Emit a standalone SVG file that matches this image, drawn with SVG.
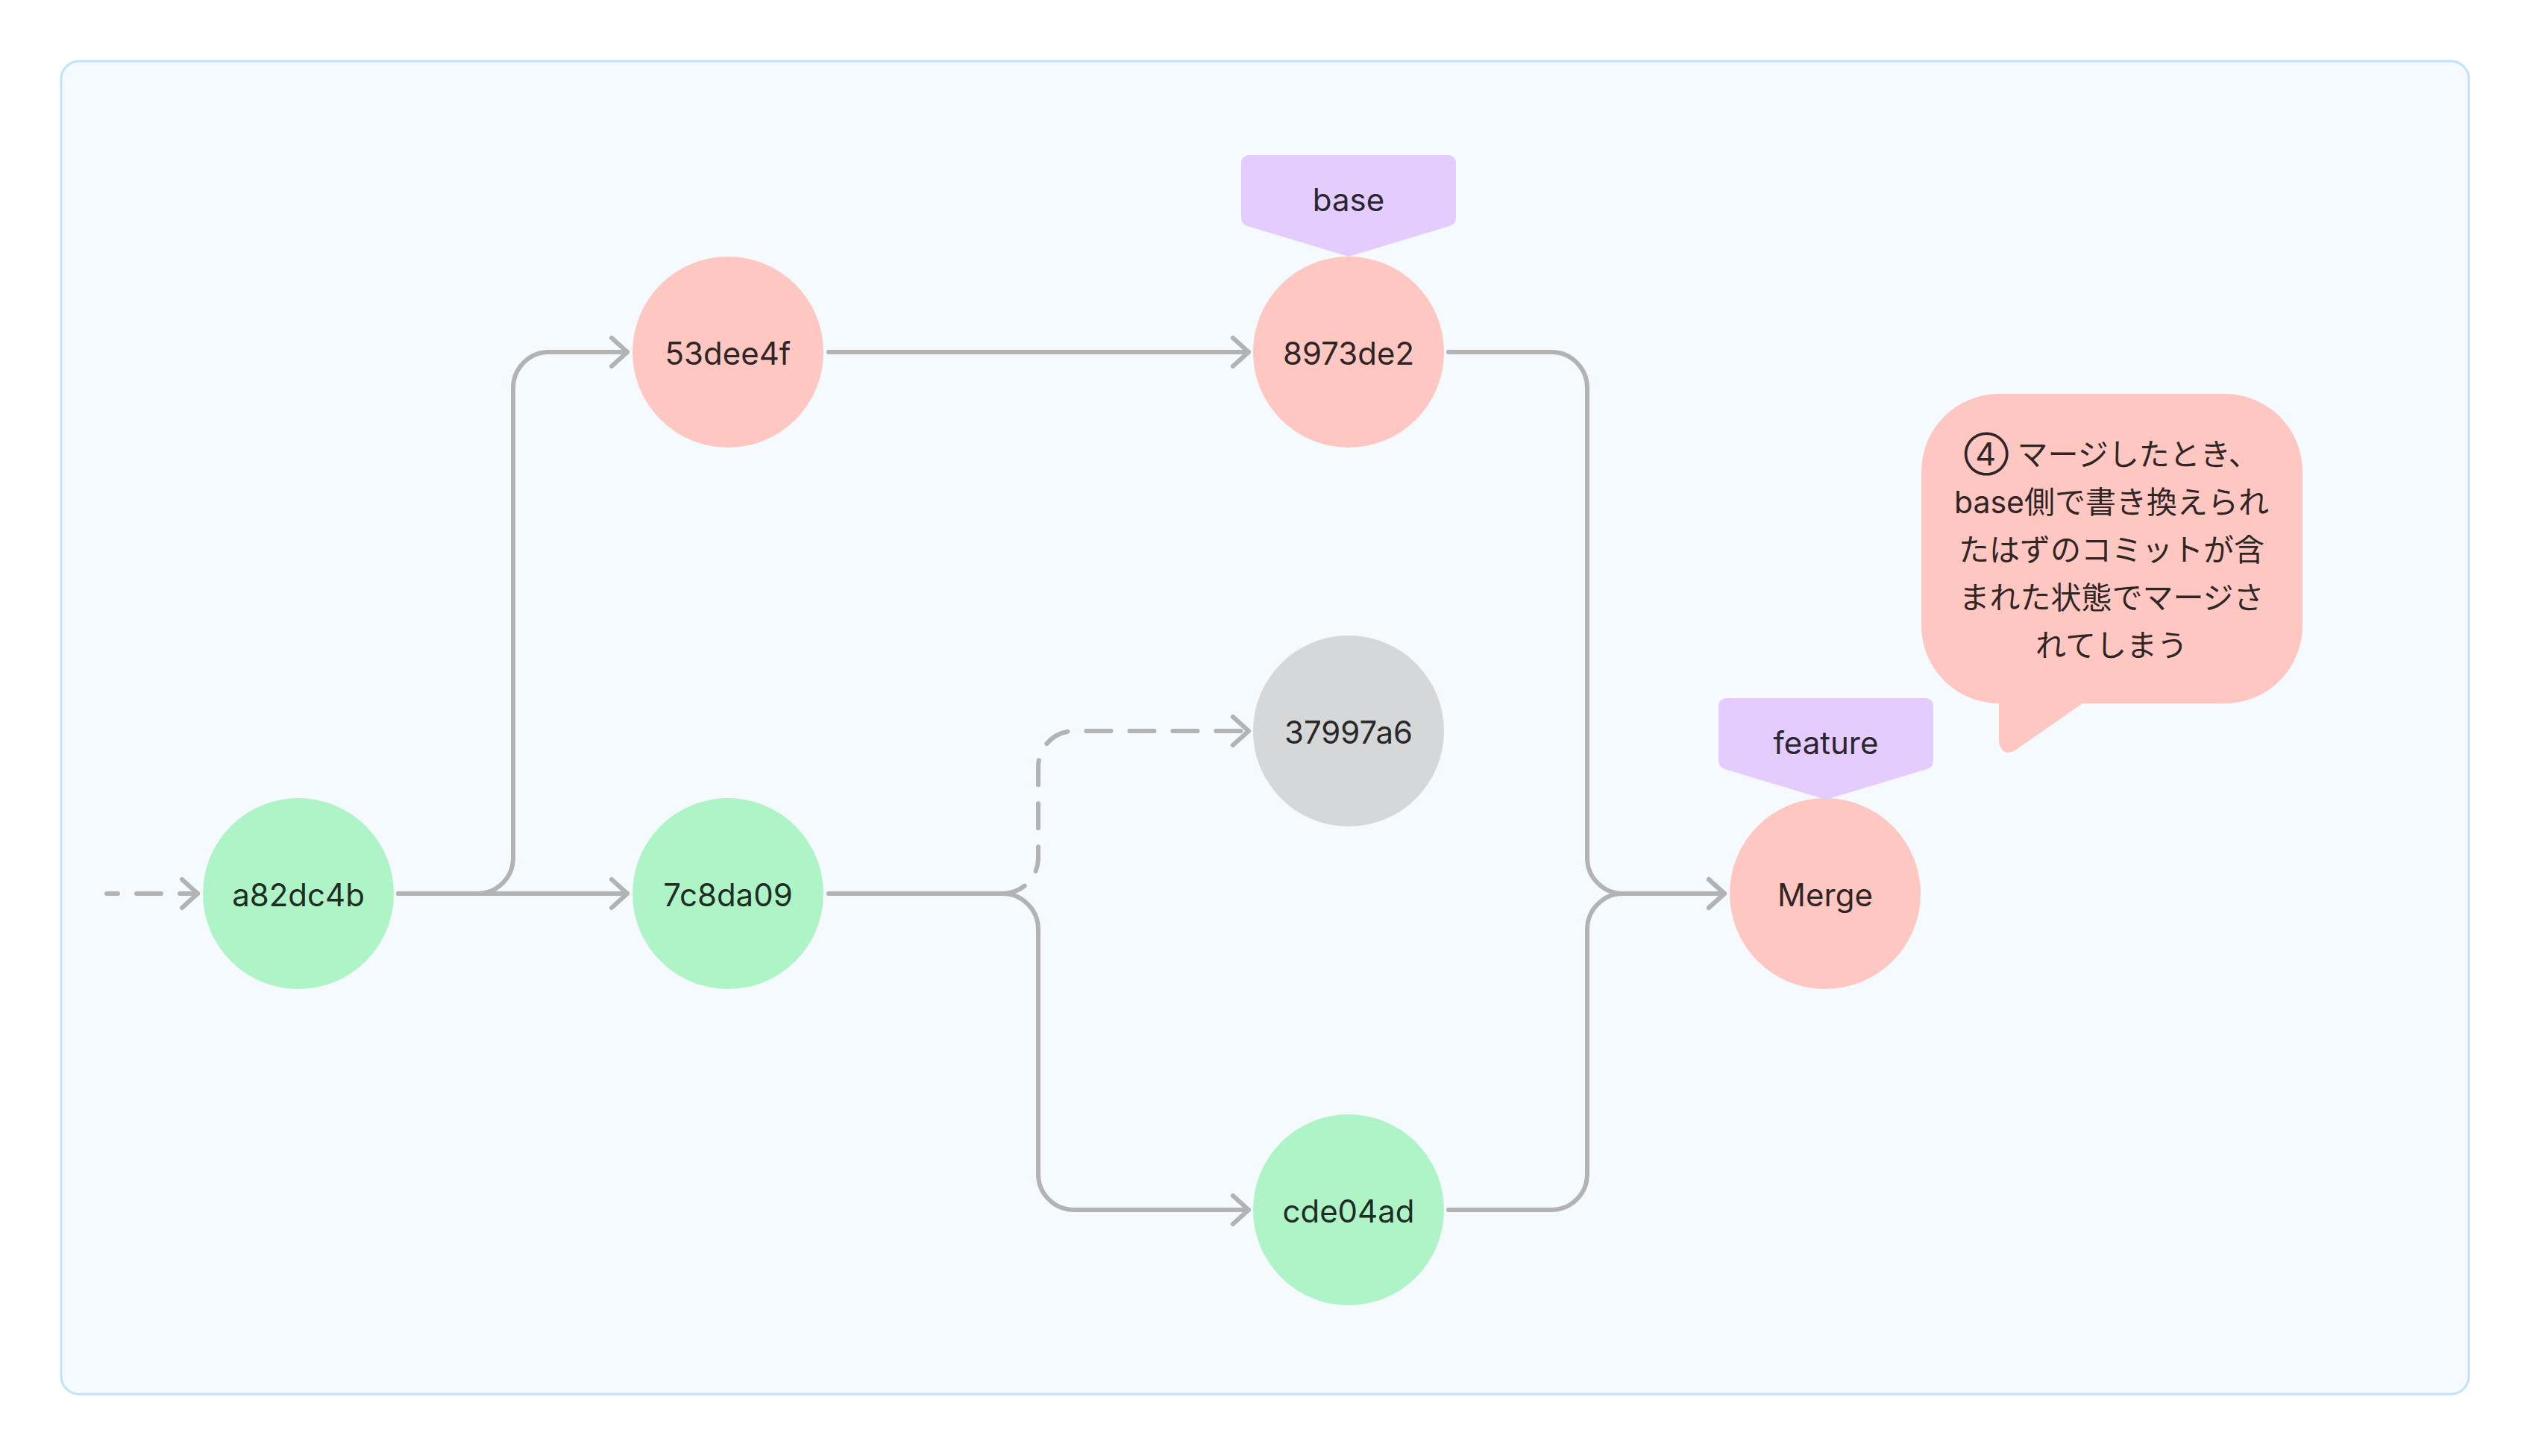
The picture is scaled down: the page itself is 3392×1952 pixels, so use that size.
<svg xmlns="http://www.w3.org/2000/svg" width="3392" height="1952" viewBox="0 0 3392 1952">
  <style>
    .frame { fill: #F5FAFE; stroke: #BEE3FB; stroke-width: 3; }
    .red { fill: #FFC7C2; }
    .green { fill: #AFF4C6; }
    .gray { fill: #D6D7D9; }
    .tag { fill: #E4CCFF; }
    .label { font-family: Inter, "Noto Sans", "Liberation Sans", sans-serif; font-size: 42px; fill: #000000; fill-opacity: 0.84; text-anchor: middle; }
    .note { font-family: Inter, "Noto Sans CJK JP", sans-serif; font-size: 41px; fill: #000000; fill-opacity: 0.84; text-anchor: middle; }
    .line { fill: none; stroke: #B3B3B3; stroke-width: 6; stroke-linecap: round; stroke-linejoin: round; }
    .dash { stroke-dasharray: 33 25; }
    .head { fill: none; stroke: #B3B3B3; stroke-width: 6; stroke-linecap: round; stroke-linejoin: round; }
  </style>
  <defs>
    <marker id="arrow" markerUnits="userSpaceOnUse" viewBox="-26 -24 32 48" refX="0" refY="0" markerWidth="32" markerHeight="48" orient="auto">
      <path class="head" d="M -21 -19 L 0 0 L -21 19"/>
    </marker>
  </defs>

  <rect x="0" y="0" width="3392" height="1952" fill="#FFFFFF"/>
  <rect id="frame" class="frame" x="82" y="82" width="3228" height="1787" rx="24" ry="24"/>

  <g id="connectors">
    <path id="c-in" class="line dash" style="stroke-dashoffset:18" d="M 143 1198 H 265" marker-end="url(#arrow)"/>
    <path id="c-a82-53d" class="line" d="M 534 1198 H 640 A 48 48 0 0 0 688 1150 V 520 A 48 48 0 0 1 736 472 H 841" marker-end="url(#arrow)"/>
    <path id="c-a82-7c8" class="line" d="M 534 1198 H 841" marker-end="url(#arrow)"/>
    <path id="c-53d-897" class="line" d="M 1111 472 H 1674" marker-end="url(#arrow)"/>
    <path id="c-7c8-379" class="line dash" d="M 1111 1198 H 1344 A 48 48 0 0 0 1392 1150 V 1028 A 48 48 0 0 1 1440 980 H 1674" marker-end="url(#arrow)"/>
    <path id="c-7c8-cde" class="line" d="M 1111 1198 H 1344 A 48 48 0 0 1 1392 1246 V 1574 A 48 48 0 0 0 1440 1622 H 1674" marker-end="url(#arrow)"/>
    <path id="c-897-merge" class="line" d="M 1942 472 H 2080 A 48 48 0 0 1 2128 520 V 1150 A 48 48 0 0 0 2176 1198 H 2312" marker-end="url(#arrow)"/>
    <path id="c-cde-merge" class="line" d="M 1942 1622 H 2080 A 48 48 0 0 0 2128 1574 V 1246 A 48 48 0 0 1 2176 1198 H 2312" marker-end="url(#arrow)"/>
  </g>

  <g id="node-a82dc4b">
    <circle class="green" cx="400" cy="1198" r="128"/>
    <text class="label" x="400" y="1215">a82dc4b</text>
  </g>
  <g id="node-53dee4f">
    <circle class="red" cx="976" cy="472" r="128"/>
    <text class="label" x="976" y="489">53dee4f</text>
  </g>
  <g id="node-7c8da09">
    <circle class="green" cx="976" cy="1198" r="128"/>
    <text class="label" x="976" y="1215">7c8da09</text>
  </g>
  <g id="node-8973de2">
    <circle class="red" cx="1808" cy="472" r="128"/>
    <text class="label" x="1808" y="489">8973de2</text>
  </g>
  <g id="node-37997a6">
    <circle class="gray" cx="1808" cy="980" r="128"/>
    <text class="label" x="1808" y="997">37997a6</text>
  </g>
  <g id="node-cde04ad">
    <circle class="green" cx="1808" cy="1622" r="128"/>
    <text class="label" x="1808" y="1639">cde04ad</text>
  </g>
  <g id="node-merge">
    <circle class="red" cx="2447" cy="1198" r="128"/>
    <text class="label" x="2447" y="1215">Merge</text>
  </g>

  <g id="tag-base">
    <path class="tag" d="M 1676 208 H 1940 Q 1952 208 1952 220 V 292 Q 1952 300 1944 303 L 1808 344 L 1672 303 Q 1664 300 1664 292 V 220 Q 1664 208 1676 208 Z"/>
    <text class="label" x="1808" y="283">base</text>
  </g>
  <g id="tag-feature">
    <path class="tag" d="M 2316 936 H 2580 Q 2592 936 2592 948 V 1020 Q 2592 1028 2584 1031 L 2448 1072 L 2312 1031 Q 2304 1028 2304 1020 V 948 Q 2304 936 2316 936 Z"/>
    <text class="label" x="2448" y="1011">feature</text>
  </g>

  <g id="note-4">
    <path class="red" d="M 2680 528 H 2983 A 104 104 0 0 1 3087 632 V 839 A 104 104 0 0 1 2983 943 H 2792 L 2706 1003 Q 2692 1013 2685 1006 Q 2680 1001 2680 992 V 943 A 104 104 0 0 1 2576 839 V 632 A 104 104 0 0 1 2680 528 Z"/>
    <text class="note" x="2831" y="624"><tspan style="font-size:43px">④</tspan> マージしたとき、</text>
    <text class="note" x="2831" y="688">base側で書き換えられ</text>
    <text class="note" x="2831" y="752">たはずのコミットが含</text>
    <text class="note" x="2831" y="816">まれた状態でマージさ</text>
    <text class="note" x="2831" y="880">れてしまう</text>
  </g>
</svg>
